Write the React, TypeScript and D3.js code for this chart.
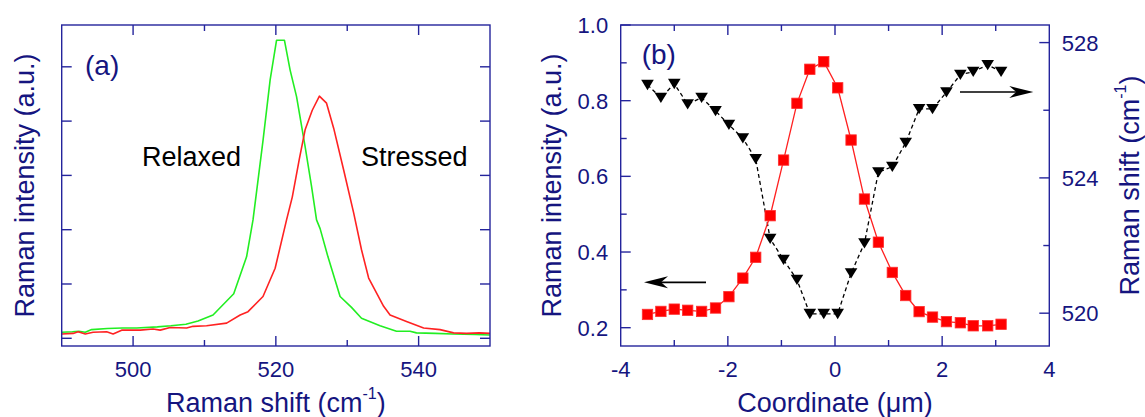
import React from 'react';
import * as d3 from 'd3';

// ---------- Panel (a) data ----------
const relaxedShift = [490, 491.5, 492.4, 493.3, 494.2, 496.4, 498.5, 500.5, 503.4, 505.3, 507.4, 509.1, 511.2, 514.1, 515.9, 516.8, 518.2, 519.2, 520.1, 521.2, 522.0, 522.9, 524.1, 525.0, 525.7, 526.2, 527.3, 529.0, 530.6, 532.0, 534.6, 536.9, 538.8, 539.7, 542.3, 544.8, 547.9, 550];
const relaxedInt = [0.11, 0.12, 0.13, 0.11, 0.16, 0.18, 0.19, 0.19, 0.21, 0.23, 0.26, 0.32, 0.43, 0.82, 1.5, 2.18, 3.64, 4.76, 5.49, 5.49, 4.94, 4.45, 3.53, 2.8, 2.18, 2.02, 1.5, 0.77, 0.57, 0.37, 0.23, 0.13, 0.13, 0.1, 0.09, 0.08, 0.07, 0.06];
const stressedShift = [490, 491.6, 492.3, 493.3, 494.4, 496.3, 497.2, 498.4, 501.0, 502.8, 503.8, 505.2, 507.5, 508.4, 510.3, 513.1, 515.0, 516.1, 518.2, 519.9, 521.5, 522.3, 523.3, 524.1, 525.1, 526.1, 527.1, 528.1, 529.5, 530.9, 532.0, 533.0, 535.1, 536.0, 538.3, 540.7, 543.0, 544.9, 546.7, 548.5, 550];
const stressedInt = [0.08, 0.09, 0.12, 0.08, 0.11, 0.12, 0.08, 0.15, 0.15, 0.17, 0.15, 0.2, 0.19, 0.22, 0.23, 0.28, 0.43, 0.49, 0.77, 1.29, 2.18, 2.6, 3.31, 3.84, 4.2, 4.46, 4.33, 3.87, 3.1, 2.31, 1.63, 1.11, 0.59, 0.43, 0.31, 0.19, 0.16, 0.1, 0.09, 0.1, 0.09];
const aXMajor = [500, 520, 540];
const aXMinor = [510, 530];
const aYTicks = [0, 1, 2, 3, 4, 5];

// ---------- Panel (b) data ----------
const coordinate = [-3.50, -3.25, -3.00, -2.75, -2.49, -2.23, -1.98, -1.72, -1.48, -1.21, -0.96, -0.71, -0.47, -0.21, 0.05, 0.30, 0.55, 0.81, 1.07, 1.32, 1.57, 1.82, 2.08, 2.34, 2.58, 2.85, 3.10];
const intensityB = [0.235, 0.243, 0.249, 0.246, 0.243, 0.252, 0.282, 0.331, 0.386, 0.496, 0.643, 0.793, 0.883, 0.903, 0.834, 0.696, 0.540, 0.426, 0.346, 0.285, 0.2425, 0.228, 0.216, 0.213, 0.205, 0.205, 0.209];
const shiftB = [526.75, 526.37, 526.78, 526.18, 526.37, 525.98, 525.57, 525.17, 524.56, 522.20, 521.58, 520.99, 519.98, 519.98, 519.98, 521.18, 522.07, 524.17, 524.33, 525.04, 526.04, 526.04, 526.53, 527.05, 527.14, 527.34, 527.14];
const bXMajor = [-4, -2, 0, 2, 4];
const bXMinor = [-3, -1, 1, 3];
const bYLMajor = [0.2, 0.4, 0.6, 0.8, 1.0];
const bYLMinor = [0.3, 0.5, 0.7, 0.9];
const bYRMajor = [520, 524, 528];
const bYRMinor = [522, 526];

const AXIS = '#24249c';
const TEXT = '#15157f';
const FONT = '"Liberation Sans", Arial, Helvetica, sans-serif';
const MAJ = 10;
const MIN = 6;

export default function App() {
  const ax = d3.scaleLinear().domain([490, 550]).range([61.7, 490]);
  const ay = d3.scaleLinear().domain([-0.142, 5.77]).range([346, 25]);
  const bx = d3.scaleLinear().domain([-4, 4]).range([620.7, 1049.3]);
  const byL = d3.scaleLinear().domain([0.1516, 1.0]).range([346, 25]);
  const byR = d3.scaleLinear().domain([519.03, 528.52]).range([346, 25]);

  const aLine = d3.line<number>().x((d, i) => ax(relaxedShift[i])).y((d) => ay(d));
  const aLine2 = d3.line<number>().x((d, i) => ax(stressedShift[i])).y((d) => ay(d));
  const bLineI = d3.line<number>().x((d, i) => bx(coordinate[i])).y((d) => byL(d));
  const bLineS = d3.line<number>().x((d, i) => bx(coordinate[i])).y((d) => byR(d));

  const [aL, aR] = ax.range();
  const [aB, aT] = ay.range();
  const [bL, bR] = bx.range();
  const [bB, bT] = byL.range();

  const arrowHead = (tx: number, ty: number, dir: number) => {
    const len = 24, hw = 6, notch = 17;
    return `M${tx},${ty} L${tx - dir * len},${ty - hw} L${tx - dir * notch},${ty} L${tx - dir * len},${ty + hw} Z`;
  };

  return (
    <svg width={1145} height={417} style={{ position: 'absolute', left: 0, top: 0, background: '#fff' }} fontFamily={FONT}>
      <rect x={0} y={0} width={1145} height={417} fill="#fff" />
      {/* ===== Panel (a) ===== */}
      <g>
        <path d={aLine(relaxedInt) || ''} fill="none" stroke="#22ee22" strokeWidth={1.6} strokeLinejoin="round" />
        <path d={aLine2(stressedInt) || ''} fill="none" stroke="#ff2222" strokeWidth={1.6} strokeLinejoin="round" />
        <rect x={aL} y={aT} width={aR - aL} height={aB - aT} fill="none" stroke={AXIS} strokeWidth={1.4} />
        {aXMajor.map((t) => (
          <g key={'axm' + t}>
            <line x1={ax(t)} x2={ax(t)} y1={aB} y2={aB - MAJ} stroke={AXIS} strokeWidth={1.4} />
            <line x1={ax(t)} x2={ax(t)} y1={aT} y2={aT + MAJ} stroke={AXIS} strokeWidth={1.4} />
            <text x={ax(t)} y={377} fontSize={22} fill={TEXT} textAnchor="middle">{t}</text>
          </g>
        ))}
        {aXMinor.map((t) => (
          <g key={'axn' + t}>
            <line x1={ax(t)} x2={ax(t)} y1={aB} y2={aB - MIN} stroke={AXIS} strokeWidth={1.4} />
            <line x1={ax(t)} x2={ax(t)} y1={aT} y2={aT + MIN} stroke={AXIS} strokeWidth={1.4} />
          </g>
        ))}
        {aYTicks.map((t) => (
          <g key={'ay' + t}>
            <line x1={aL} x2={aL + MAJ} y1={ay(t)} y2={ay(t)} stroke={AXIS} strokeWidth={1.4} />
            <line x1={aR} x2={aR - MAJ} y1={ay(t)} y2={ay(t)} stroke={AXIS} strokeWidth={1.4} />
          </g>
        ))}
        <text x={85} y={75} fontSize={28} fill={TEXT}>(a)</text>
        <text x={142} y={166} fontSize={27} fill="#000">Relaxed</text>
        <text x={361} y={166} fontSize={27} fill="#000">Stressed</text>
        <text x={(aL + aR) / 2} y={412} fontSize={27} fill={TEXT} textAnchor="middle">
          Raman shift (cm<tspan fontSize={16} dy={-13}>-1</tspan><tspan dy={13}>)</tspan>
        </text>
        <text transform={`translate(34,${(aT + aB) / 2}) rotate(-90)`} fontSize={27} fill={TEXT} textAnchor="middle">
          Raman intensity (a.u.)
        </text>
      </g>

      {/* ===== Panel (b) ===== */}
      <g>
        <path d={bLineS(shiftB) || ''} fill="none" stroke="#000" strokeWidth={1.3} strokeDasharray="4,3" />
        <path d={bLineI(intensityB) || ''} fill="none" stroke="#ff2020" strokeWidth={1.3} />
        {coordinate.map((c, i) => (
          <rect key={'sq' + i} x={bx(c) - 5.2} y={byL(intensityB[i]) - 5.2} width={10.4} height={10.4} fill="#ff0000" stroke="#ff3030" strokeWidth={0.8} />
        ))}
        {coordinate.map((c, i) => {
          const x = bx(c), y = byR(shiftB[i]);
          return <path key={'tr' + i} d={`M${x - 6.3},${y - 5} L${x + 6.3},${y - 5} L${x},${y + 5.3} Z`} fill="#000" />;
        })}
        <rect x={bL} y={bT} width={bR - bL} height={bB - bT} fill="none" stroke={AXIS} strokeWidth={1.4} />
        {bXMajor.map((t) => (
          <g key={'bxm' + t}>
            {t > -4 && t < 4 && <line x1={bx(t)} x2={bx(t)} y1={bB} y2={bB - MAJ} stroke={AXIS} strokeWidth={1.4} />}
            {t > -4 && t < 4 && <line x1={bx(t)} x2={bx(t)} y1={bT} y2={bT + MAJ} stroke={AXIS} strokeWidth={1.4} />}
            <text x={bx(t)} y={377} fontSize={22} fill={TEXT} textAnchor="middle">{t}</text>
          </g>
        ))}
        {bXMinor.map((t) => (
          <g key={'bxn' + t}>
            <line x1={bx(t)} x2={bx(t)} y1={bB} y2={bB - MIN} stroke={AXIS} strokeWidth={1.4} />
            <line x1={bx(t)} x2={bx(t)} y1={bT} y2={bT + MIN} stroke={AXIS} strokeWidth={1.4} />
          </g>
        ))}
        {bYLMajor.map((t) => (
          <g key={'byl' + t}>
            <line x1={bL} x2={bL + MAJ} y1={byL(t)} y2={byL(t)} stroke={AXIS} strokeWidth={1.4} />
            <text x={bL - 12.5} y={byL(t)} dy="0.36em" fontSize={22} fill={TEXT} textAnchor="end">{d3.format('.1f')(t)}</text>
          </g>
        ))}
        {bYLMinor.map((t) => (
          <line key={'byln' + t} x1={bL} x2={bL + MIN} y1={byL(t)} y2={byL(t)} stroke={AXIS} strokeWidth={1.4} />
        ))}
        {bYRMajor.map((t) => (
          <g key={'byr' + t}>
            <line x1={bR} x2={bR - MAJ} y1={byR(t)} y2={byR(t)} stroke={AXIS} strokeWidth={1.4} />
            <text x={bR + 12.5} y={byR(t)} dy="0.36em" fontSize={22} fill={TEXT} textAnchor="start">{t}</text>
          </g>
        ))}
        {bYRMinor.map((t) => (
          <line key={'byrn' + t} x1={bR} x2={bR - MIN} y1={byR(t)} y2={byR(t)} stroke={AXIS} strokeWidth={1.4} />
        ))}
        {/* arrows */}
        <line x1={706} x2={656} y1={282.3} y2={282.3} stroke="#000" strokeWidth={1.7} />
        <path d={arrowHead(644, 282.3, -1)} fill="#000" />
        <line x1={960} x2={1021} y1={92} y2={92} stroke="#000" strokeWidth={1.7} />
        <path d={arrowHead(1033.3, 92, 1)} fill="#000" />

        <text x={641.7} y={64} fontSize={28} fill={TEXT}>(b)</text>
        <text x={(bL + bR) / 2} y={412} fontSize={27} fill={TEXT} textAnchor="middle">
          Coordinate (μm)
        </text>
        <text transform={`translate(561,${(bT + bB) / 2}) rotate(-90)`} fontSize={27} fill={TEXT} textAnchor="middle">
          Raman intensity (a.u.)
        </text>
        <text transform={`translate(1139,${(bT + bB) / 2}) rotate(-90)`} fontSize={27} fill={TEXT} textAnchor="middle">
          Raman shift (cm<tspan fontSize={16} dy={-13}>-1</tspan><tspan dy={13}>)</tspan>
        </text>
      </g>
    </svg>
  );
}
